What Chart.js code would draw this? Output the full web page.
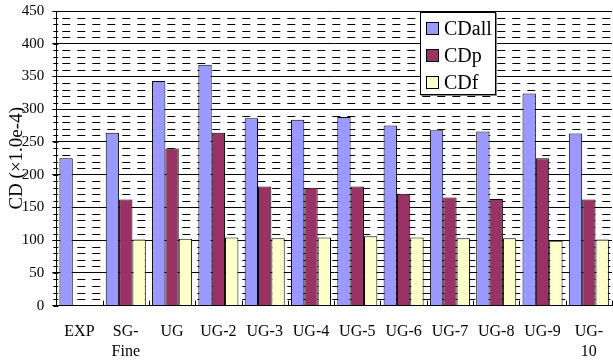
<!DOCTYPE html>
<html>
<head>
<meta charset="utf-8">
<script src="https://cdn.jsdelivr.net/npm/chart.js@4/dist/chart.umd.min.js"></script>
<style>
  html, body { margin: 0; padding: 0; background: #fff; }
  #wrap { position: relative; width: 613px; height: 361px; }
  #legend {
    position: absolute; left: 420px; top: 12px; width: 74px; height: 81px;
    border: 1px solid #000; background: #fff; box-shadow: 1px 1px 0 #888;
    font-family: "Liberation Serif", "Times New Roman", serif; font-size: 20px; color: #000;
  }
  .item { position: absolute; left: 5px; height: 24px; line-height: 24px; white-space: nowrap; }
  .sw { display: inline-block; width: 11px; height: 11px; border: 1px solid #000; vertical-align: middle; margin-right: 5px; position: relative; top: -2px; }
</style>
</head>
<body>
<div id="wrap">
  <canvas id="c" width="613" height="361"></canvas>
  <div id="legend"></div>
</div>
<script>
const categories = ['EXP', ['SG-', 'Fine'], 'UG', 'UG-2', 'UG-3', 'UG-4', 'UG-5', 'UG-6', 'UG-7', 'UG-8', 'UG-9', ['UG-', '10']];
const seriesNames = ['CDall', 'CDp', 'CDf'];
const cdAll = [225, 264, 343, 368, 286, 284, 288, 275, 268, 266, 324, 263];
const cdP   = [null, 162, 240, 264, 182, 180, 182, 171, 165, 163, 225, 162];
const cdF   = [null, 101, 102, 104, 103, 104, 106, 104, 103, 103, 99, 101];
const seriesColors = ['#9999FF', '#993366', '#FFFFCC'];
const yMin = 0, yMax = 450, yMajorStep = 50, yMinorStep = 10;
const yTitle = 'CD (\u00D71.0e-4)';

const serif = '"Liberation Serif", "Times New Roman", serif';

const minorGrid = {
  id: 'minorGrid',
  beforeDatasetsDraw(chart) {
    const ctx = chart.ctx, y = chart.scales.y, a = chart.chartArea;
    ctx.save();
    ctx.strokeStyle = '#000';
    ctx.lineWidth = 1;
    ctx.setLineDash([8, 7]);
    ctx.lineDashOffset = -4;
    for (let v = yMin + yMinorStep; v < yMax; v += yMinorStep) {
      if (v % yMajorStep === 0) continue;
      const py = Math.round(y.getPixelForValue(v)) + 0.5;
      ctx.beginPath();
      ctx.moveTo(a.left + 2, py);
      ctx.lineTo(a.right, py);
      ctx.stroke();
    }
    ctx.setLineDash([]);
    for (let v = yMin; v <= yMax; v += yMinorStep) {
      const py = Math.round(y.getPixelForValue(v)) + 0.5;
      ctx.beginPath();
      ctx.moveTo(a.left - 3, py);
      ctx.lineTo(a.left + 2, py);
      ctx.stroke();
    }
    ctx.restore();
  },
  afterDatasetsDraw(chart) {
    const ctx = chart.ctx, x = chart.scales.x, a = chart.chartArea;
    ctx.save();
    ctx.strokeStyle = '#000';
    ctx.lineWidth = 1;
    for (let i = 0; i <= categories.length; i++) {
      const px = Math.round(x.getPixelForValue(i - 0.5)) + 0.5;
      ctx.beginPath();
      ctx.moveTo(px, a.bottom);
      ctx.lineTo(px, a.bottom - 5);
      ctx.stroke();
    }
    ctx.restore();
  }
};

const data = {
  labels: categories,
  datasets: [cdAll, cdP, cdF].map((vals, i) => ({
    label: seriesNames[i],
    data: vals,
    backgroundColor: seriesColors[i],
    borderColor: '#000',
    borderWidth: 1,
    categoryPercentage: 0.865,
    barPercentage: 1.0
  }))
};

new Chart(document.getElementById('c'), {
  type: 'bar',
  data,
  plugins: [minorGrid],
  options: {
    responsive: false,
    animation: false,
    layout: { padding: { top: 11, right: 1, left: 6, bottom: -17 } },
    plugins: { legend: { display: false }, tooltip: { enabled: false } },
    scales: {
      x: {
        offset: true,
        afterFit: s => { s.paddingLeft = 0; s.paddingRight = 0; },
        grid: { display: true, drawOnChartArea: false, drawTicks: false },
        border: { color: '#000', width: 1 },
        ticks: { color: '#000', font: { family: serif, size: 16 }, padding: 17, maxRotation: 0, autoSkip: false }
      },
      y: {
        min: yMin, max: yMax,
        afterFit: s => { s.paddingTop = 0; s.paddingBottom = 0; },
        ticks: { stepSize: yMajorStep, color: '#000', font: { family: serif, size: 15 }, padding: 8 },
        grid: { color: '#000', lineWidth: 1, drawTicks: true, tickLength: 4 },
        border: { color: '#000', width: 1 },
        title: { display: true, text: yTitle, color: '#000', font: { family: serif, size: 19 }, padding: { top: 0, bottom: -15 } }
      }
    }
  }
});

const leg = document.getElementById('legend');
seriesNames.forEach((n, i) => {
  const d = document.createElement('div');
  d.className = 'item';
  d.style.top = (3 + i * 27) + 'px';
  d.innerHTML = '<span class="sw" style="background:' + seriesColors[i] + '"></span>' + n;
  leg.appendChild(d);
});
</script>
</body>
</html>
